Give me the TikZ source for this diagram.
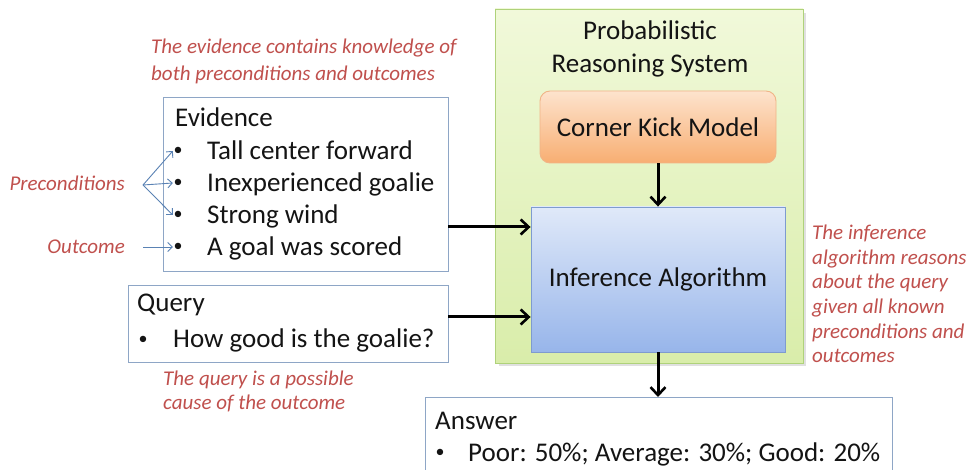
\documentclass[tikz,border=0pt]{standalone}
\usepackage{fontspec}
\setmainfont{Carlito}
\usetikzlibrary{arrows.meta}
\definecolor{annot}{HTML}{C0504D}
\definecolor{txt}{HTML}{141414}
\definecolor{boxline}{HTML}{8EA6C6}
\definecolor{greenline}{HTML}{AFD27A}
\definecolor{greentop}{HTML}{F1F9DA}
\definecolor{greenbot}{HTML}{D9EDAA}
\definecolor{orangeline}{HTML}{F0B487}
\definecolor{orangetop}{HTML}{FDE3CD}
\definecolor{orangebot}{HTML}{F8AE72}
\definecolor{blueline}{HTML}{7E9BCF}
\definecolor{bluetop}{HTML}{E0E9F9}
\definecolor{bluebot}{HTML}{97B5EA}
\definecolor{pointer}{HTML}{5A82B4}
\tikzset{
  listbox/.style={draw=boxline, line width=0.9pt, fill=white, inner sep=0pt},
  big/.style={font=\fontsize{27}{32}\selectfont, text=txt},
  main/.style={big, inner sep=0pt, anchor=base west},
  note/.style={font=\fontsize{21}{24.5}\selectfont\itshape, text=annot, inner sep=0pt, anchor=base west},
  bul/.style={font=\fontsize{18}{20}\selectfont, text=txt, inner sep=0.5pt},
  flow/.style={line width=3pt, -{Straight Barb[length=8pt,width=15pt,line width=2.6pt]}},
  hint/.style={draw=pointer, line width=0.9pt, -{Straight Barb[length=4.5pt,width=9pt,line width=0.9pt]}}
}
\begin{document}
\begin{tikzpicture}[x=1pt,y=-1pt]
\clip (0,0) rectangle (972,470);
\fill[white] (0,0) rectangle (972,470);

% system container and its two components
\fill[black!12] (499,13) rectangle (806,366);
\node[draw=greenline, line width=0.9pt, top color=greentop, bottom color=greenbot,
      minimum width=308pt, minimum height=354pt, inner sep=0pt] (sys) at (649,186) {};
\node[big, inner sep=0pt, anchor=base] (sysa) at (650,40) {Probabilistic};
\node[big, inner sep=0pt, anchor=base] (sysb) at (650,73) {Reasoning System};
\node[draw=orangeline, line width=0.9pt, rounded corners=10pt, top color=orangetop, bottom color=orangebot,
      minimum width=236pt, minimum height=72pt, inner sep=0pt, big]
      (ckm) at (658,127) {Corner Kick Model};
\node[draw=blueline, line width=0.9pt, top color=bluetop, bottom color=bluebot,
      minimum width=254pt, minimum height=145pt, inner sep=0pt, big]
      (inf) at (658,279.5) {Inference Algorithm};

% evidence list
\node[listbox, minimum width=285pt, minimum height=174pt] (ev) at (305.5,184) {};
\node[main] (evt) at (175,127) {Evidence};
\node[bul] (b1) at (178,151) {•};
\node[bul] (b2) at (178,183) {•};
\node[bul] (b3) at (178,215) {•};
\node[bul] (b4) at (178,247) {•};
\node[main] (e1) at (207,160) {Tall center forward};
\node[main] (e2) at (207,192) {Inexperienced goalie};
\node[main] (e3) at (207,224) {Strong wind};
\node[main] (e4) at (207,256) {A goal was scored};

% query
\node[listbox, minimum width=320pt, minimum height=77pt] (q) at (288,323.5) {};
\node[main] (qt) at (137,312) {Query};
\node[bul] (qb) at (143,340) {•};
\node[main] (q1) at (173,348) {How good is the goalie?};

% answer
\node[listbox, minimum width=467pt, minimum height=100pt, anchor=north west] (ans) at (425,397) {};
\node[main] (at) at (435,429) {Answer};
\node[bul] (ab) at (440,453) {•};
\node[main] (a1) at (468,461) {Poor: 50\%; Average: 30\%; Good: 20\%};

% flow of information
\draw[flow] (ev.east |- 0,227) -- (inf.west |- 0,227);
\draw[flow] (q.east |- 0,317) -- (inf.west |- 0,317);
\draw[flow] (ckm.south) -- (inf.north);
\draw[flow] (inf.south) -- (inf.south |- ans.north);

% annotations
\node[note] (n1) at (151,54) {The evidence contains knowledge of};
\node[note] (n2) at (151,81) {both preconditions and outcomes};
\node[note, anchor=base east] (pre) at (125,191) {Preconditions};
\node[note, anchor=base east] (out) at (125,254) {Outcome};
\coordinate (pc) at (143,185);
\coordinate (oc) at (143,247);
\draw[hint] (pc) -- (b1.west);
\draw[hint] (pc) -- (b2.west);
\draw[hint] (pc) -- (b3.west);
\draw[hint] (oc) -- (b4.west);
\node[note] (qn1) at (163,385) {The query is a possible};
\node[note] (qn2) at (163,409) {cause of the outcome};
\node[note] (r1) at (812,240) {The inference};
\node[note] (r2) at (812,264.5) {algorithm reasons};
\node[note] (r3) at (812,289) {about the query};
\node[note] (r4) at (812,313.5) {given all known};
\node[note] (r5) at (812,338) {preconditions and};
\node[note] (r6) at (812,362.5) {outcomes};
\end{tikzpicture}
\end{document}
